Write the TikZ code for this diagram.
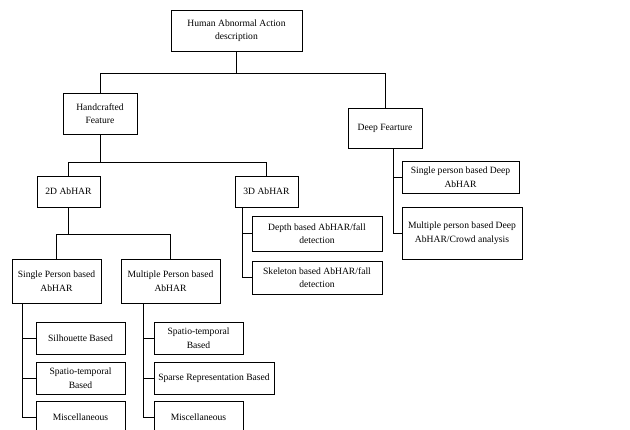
\documentclass[tikz,border=0pt]{standalone}
\usepackage{fontspec}
\setmainfont{Liberation Serif}
\tikzset{hbox/.style={draw,line width=0.8pt,align=center,inner sep=1pt,font=\fontsize{9.6}{13.5}\selectfont}}
\begin{document}
\begin{tikzpicture}[x=1pt,y=-1pt,line width=0.8pt]
\clip(0,0)rectangle(630,430);
\node[hbox,minimum width=131,minimum height=41](root)at(236.5,30.5){Human Abnormal Action\\description};
\node[hbox,minimum width=74,minimum height=41](hand)at(100,113.5){Handcrafted\\Feature};
\node[hbox,minimum width=74,minimum height=40](deep)at(385,128){Deep Fearture};
\node[hbox,minimum width=63,minimum height=31](twod)at(68.5,191.5){2D AbHAR};
\node[hbox,minimum width=63,minimum height=31](threed)at(266.5,191.5){3D AbHAR};
\node[hbox,minimum width=117,minimum height=32](sdeep)at(460.5,177){Single person based Deep\\AbHAR};
\node[hbox,minimum width=120,minimum height=52](mdeep)at(462,233){Multiple person based Deep\\AbHAR/Crowd analysis};
\node[hbox,minimum width=130,minimum height=35](depth)at(317,233.5){Depth based AbHAR/fall\\detection};
\node[hbox,minimum width=130,minimum height=33](skel)at(317,277.5){Skeleton based AbHAR/fall\\detection};
\node[hbox,minimum width=89,minimum height=44](spl)at(56.5,281){Single Person based\\AbHAR};
\node[hbox,minimum width=99,minimum height=44](mpl)at(170.5,281){Multiple Person based\\AbHAR};
\node[hbox,minimum width=89,minimum height=32](sil)at(80.5,338){Silhouette Based};
\node[hbox,minimum width=89,minimum height=32](stl)at(80.5,378){Spatio-temporal\\Based};
\node[hbox,minimum width=89,minimum height=32](misl)at(80.5,417){Miscellaneous};
\node[hbox,minimum width=89,minimum height=32](str)at(198.5,338){Spatio-temporal\\Based};
\node[hbox,minimum width=120,minimum height=32](spr)at(214,378){Sparse Representation Based};
\node[hbox,minimum width=89,minimum height=32](misr)at(198.5,417){Miscellaneous};
\foreach \c in {hand,deep} \draw(root.south)--++(0,22)-|(\c.north);
\foreach \c in {twod,threed} \draw(hand.south)--++(0,28)-|(\c.north);
\foreach \c in {spl,mpl} \draw(twod.south)--++(0,27)-|(\c.north);
\coordinate(t1)at([xshift=-13pt]sil.west);
\coordinate(t2)at([xshift=-10pt]str.west);
\coordinate(t3)at([xshift=-9pt]depth.west);
\coordinate(t4)at([xshift=-8pt]sdeep.west);
\foreach \c in {sil,stl,misl} \draw(t1|-spl.south)|-(\c.west);
\foreach \c in {str,spr,misr} \draw(t2|-mpl.south)|-(\c.west);
\foreach \c in {depth,skel} \draw(t3|-threed.south)|-(\c.west);
\foreach \c in {sdeep,mdeep} \draw(t4|-deep.south)|-(\c.west);
\end{tikzpicture}
\end{document}
